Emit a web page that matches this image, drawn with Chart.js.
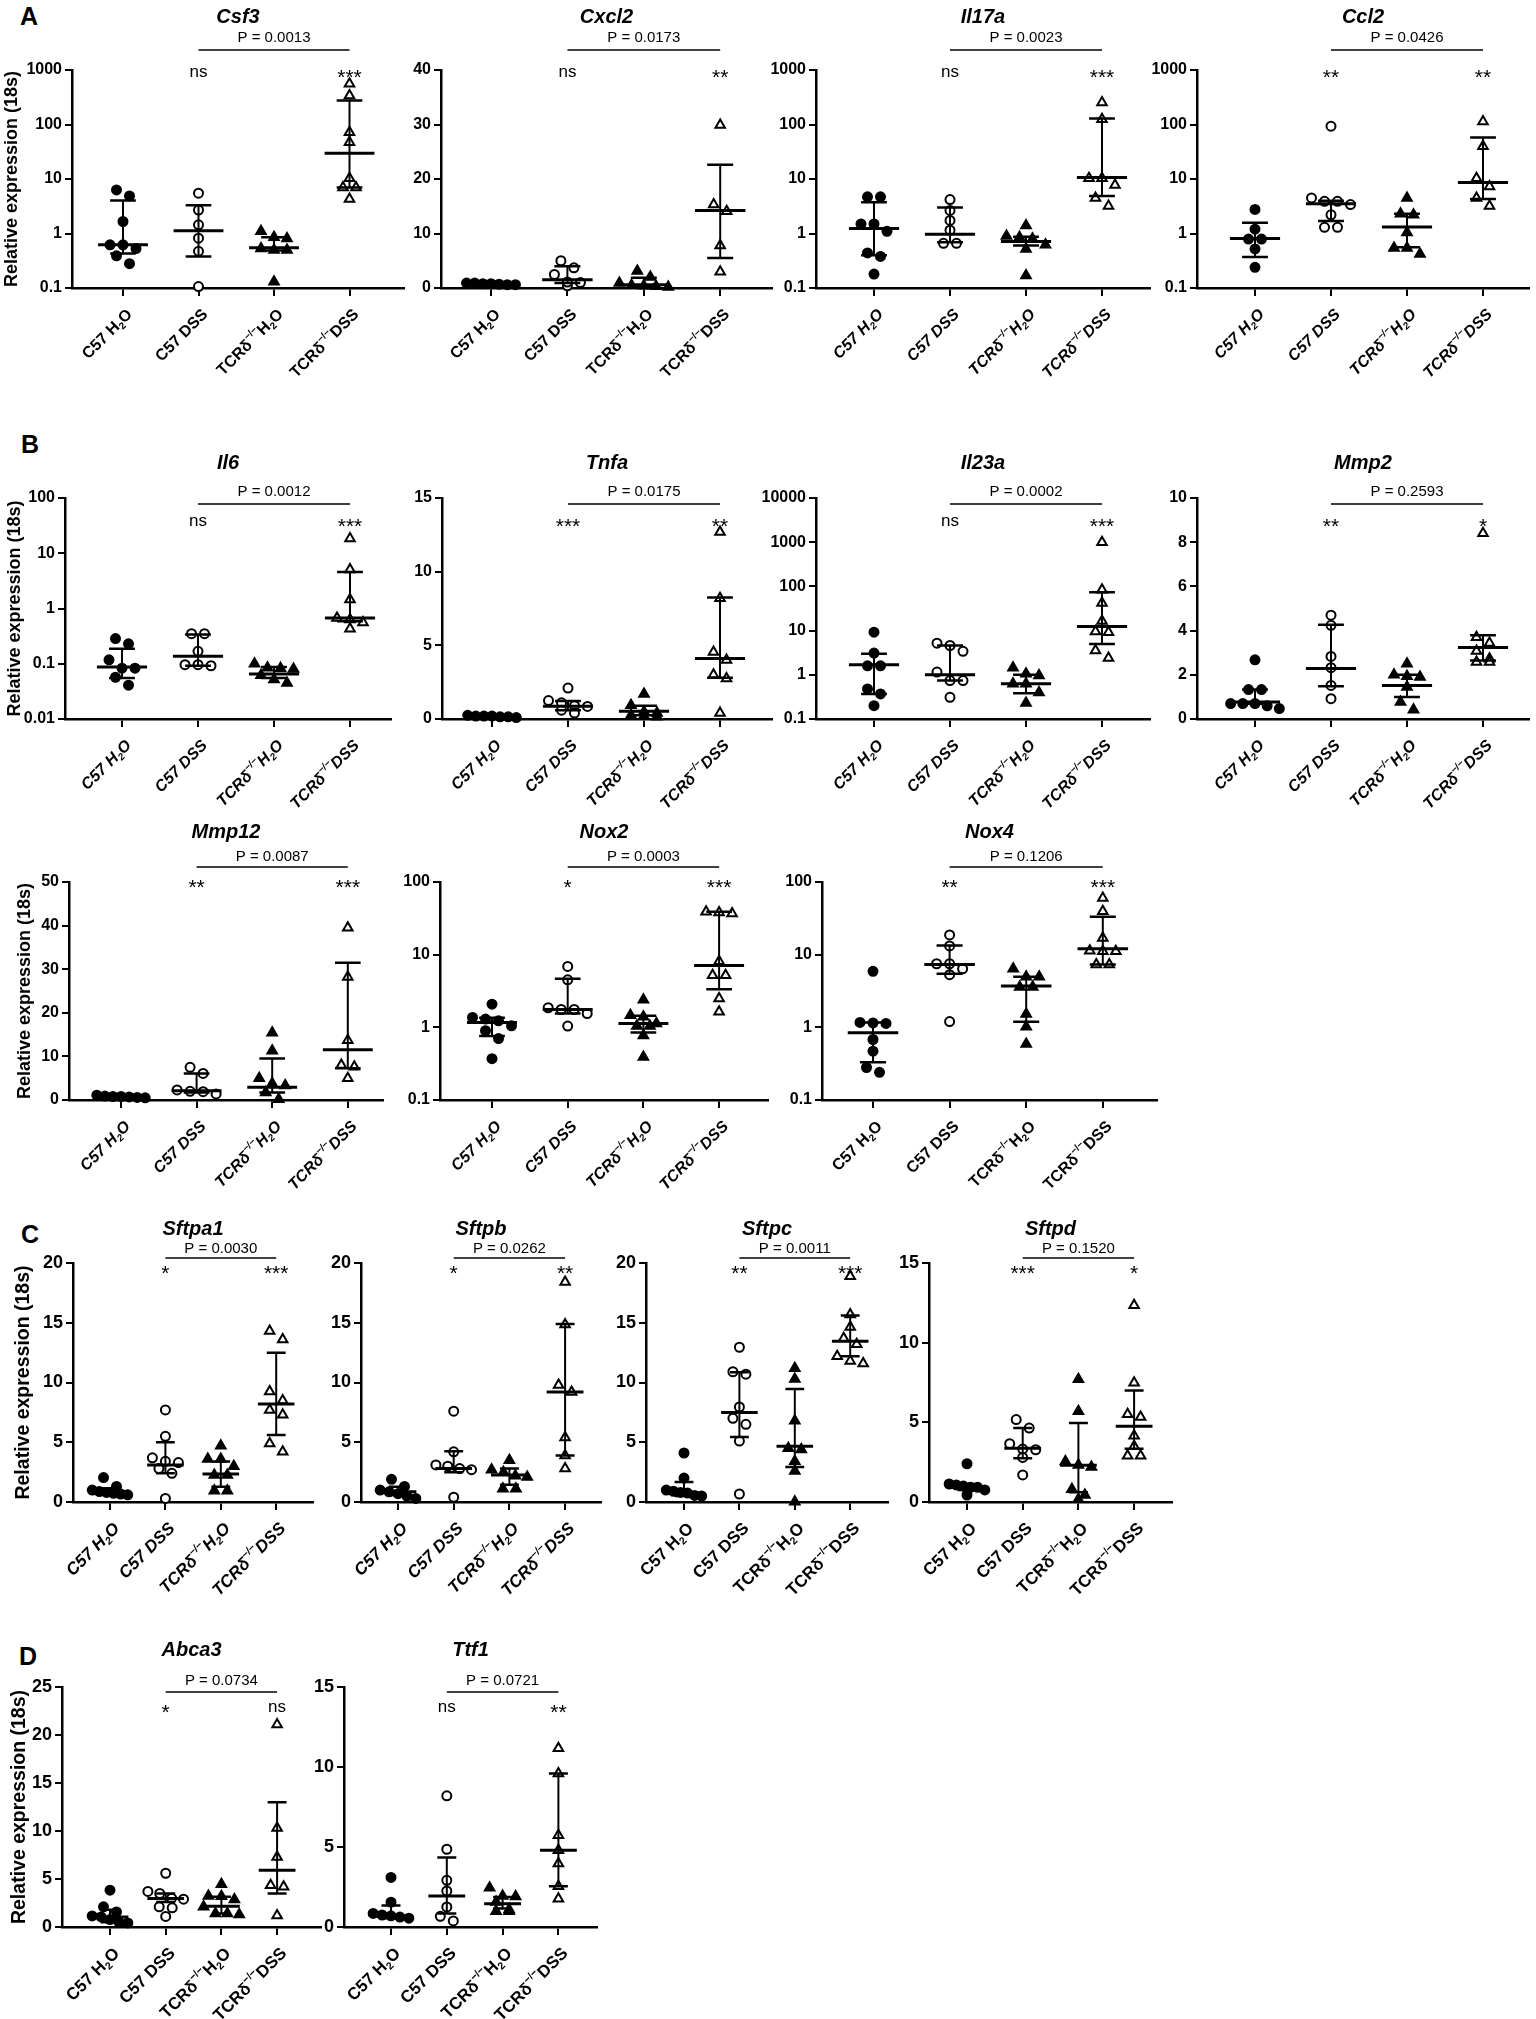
<!DOCTYPE html>
<html>
<head>
<meta charset="utf-8">
<script src="https://cdn.jsdelivr.net/npm/chart.js@4.4.1/dist/chart.umd.min.js"></script>
<style>
  body { margin: 0; background: #fff; width: 1536px; height: 2019px; position: relative; overflow: hidden; }
  canvas { position: absolute; }
  .lab { position: absolute; font: bold 25px/25px "Liberation Sans", Arial, sans-serif; color: #000; }
</style>
</head>
<body>
<div class="lab" style="left:20px;top:4px">A</div>
<div class="lab" style="left:21px;top:432px">B</div>
<div class="lab" style="left:21px;top:1222px">C</div>
<div class="lab" style="left:19px;top:1644px">D</div>
<script>
// ---- data ----
const groups = ['C57 H_{2}O', 'C57 DSS', 'TCRδ^{−/−}H_{2}O', 'TCRδ^{−/−}DSS'];
const genes = ['Csf3','Cxcl2','Il17a','Ccl2','Il6','Tnfa','Il23a','Mmp2','Mmp12','Nox2','Nox4','Sftpa1','Sftpb','Sftpc','Sftpd','Abca3','Ttf1'];
const pValues = ['0.0013','0.0173','0.0023','0.0426','0.0012','0.0175','0.0002','0.2593','0.0087','0.0003','0.1206','0.0030','0.0262','0.0011','0.1520','0.0734','0.0721'];
const marks = [['ns','***'],['ns','**'],['ns','***'],['**','**'],['ns','***'],['***','**'],['ns','***'],['**','*'],['**','***'],['*','***'],['**','***'],['*','***'],['*','**'],['**','***'],['***','*'],['*','ns'],['ns','**']];

const ticksLog1000 = [0.1, 1, 10, 100, 1000];
const ticksLog100 = [0.01, 0.1, 1, 10, 100];
const ticksLog10000 = [0.1, 1, 10, 100, 1000, 10000];
const ticksLog3 = [0.1, 1, 10, 100];
const ticks40 = [0, 10, 20, 30, 40];
const ticks15 = [0, 5, 10, 15];
const ticks10 = [0, 2, 4, 6, 8, 10];
const ticks50 = [0, 10, 20, 30, 40, 50];
const ticks20 = [0, 5, 10, 15, 20];
const ticks25 = [0, 5, 10, 15, 20, 25];

// values per group; Iqr = [low, median, high] per group
const csf3 = [[6.3,4.9,1.66,0.62,0.53,0.62,0.39,0.28],[5.5,2.7,1.44,0.82,0.47,0.106],[1.1,0.81,0.85,0.53,0.5,0.5,0.13],[560,340,72,47,10.3,7,7,4.3]];
const csf3Iqr = [[0.43,0.62,4.05],[0.38,1.12,3.3],[0.49,0.55,0.85],[7.0,29.6,277]];
const cxcl2 = [[0.6,0.9,0.7,0.8,0.6,0.8,0.9],[5.0,2.5,0.4,1.1,3.7,1.0],[3.1,2.0,0.9,0.5,0.3,0.2,0.4],[29.9,14.1,15.3,7.8,3.0]];
const cxcl2Iqr = [[0.6,0.75,0.9],[0.9,1.5,4.0],[0.3,0.6,1.9],[5.5,14.2,22.6]];
const il17a = [[4.7,4.7,1.5,1.5,1.1,0.44,0.38,0.18],[4.2,2.65,1.74,1.15,0.66,0.66],[1.4,0.85,0.8,0.9,0.62,0.52,0.17],[253,125,10.3,10.3,7.8,4.5,3.2]];
const il17aIqr = [[0.40,1.23,3.74],[0.69,0.97,3.0],[0.6,0.71,0.87],[4.9,10.6,129]];
const ccl2 = [[2.76,1.2,0.79,0.79,0.52,0.24],[93,4.5,3.9,3.9,3.4,2.2,1.3,1.3],[4.5,2.3,2.2,1.04,0.54,0.54,0.42],[113,40,10.3,7.3,4.5,3.2]];
const ccl2Iqr = [[0.37,0.81,1.58],[1.7,3.5,4.0],[0.56,1.32,2.3],[4.3,8.6,58]];
const il6 = [[0.285,0.23,0.118,0.083,0.083,0.057,0.041],[0.35,0.35,0.168,0.092,0.096,0.096],[0.1,0.085,0.083,0.08,0.062,0.052,0.045],[18.4,5.1,1.46,0.67,0.63,0.56,0.43]];
const il6Iqr = [[0.055,0.087,0.187],[0.092,0.136,0.34],[0.055,0.065,0.087],[0.59,0.67,4.6]];
const tnfa = [[0.2,0.25,0.2,0.15,0.2,0.1,0.15],[2.1,1.25,1.1,0.9,0.85,0.6,0.4],[1.7,0.93,0.5,0.4,0.25,0.15,0.2],[12.7,8.2,4.55,4.0,3.0,2.75,0.4]];
const tnfaIqr = [[0.15,0.2,0.25],[0.59,0.86,1.22],[0.25,0.52,0.9],[2.8,4.1,8.24]];
const il23a = [[9.2,3.1,1.6,1.6,0.48,0.37,0.2],[4.6,5.2,3.4,1.15,0.74,0.74,0.31],[1.44,1.05,0.97,0.63,0.63,0.4,0.23],[1000,84,42,16.4,9.6,9.2,3.55,2.4]];
const il23aIqr = [[0.37,1.68,2.98],[0.74,1.0,4.6],[0.38,0.63,1.0],[5.0,12.4,74]];
const mmp2 = [[2.68,1.33,1.33,0.7,0.7,0.7,0.6,0.47],[4.7,4.24,2.83,2.32,1.52,0.92],[2.5,1.9,1.93,2.0,1.45,0.77,0.42],[8.4,3.7,3.44,3.08,2.73,2.58,2.58]];
const mmp2Iqr = [[0.69,0.77,1.33],[1.48,2.28,4.27],[1.0,1.52,2.0],[2.65,3.23,3.79]];
const mmp12 = [[0.9,1.1,0.6,0.8,0.7,0.5,0.8],[7.5,6.1,2.3,2.0,1.9,1.4],[15.4,11.3,5.0,3.8,3.3,1.7,0.2],[39.5,28.2,13.7,8.0,7.6,5.0]];
const mmp12Iqr = [[0.6,0.75,1.0],[1.7,2.1,6.1],[1.7,2.9,9.5],[7.3,11.5,31.5]];
const nox2 = [[2.08,1.37,1.3,1.23,1.05,0.9,0.7,0.37],[6.9,4.5,1.86,1.76,1.76,1.55,1.04],[2.4,1.47,1.4,1.13,1.04,1.04,0.77,0.39],[38,37,39,8.1,5.2,5.2,2.5,1.64]];
const nox2Iqr = [[0.76,1.17,1.35],[1.55,1.76,4.67],[0.85,1.13,1.44],[3.34,7.1,39]];
const nox4 = [[5.9,1.15,1.17,1.13,0.68,0.47,0.28,0.24],[18.7,13.2,7.5,7.5,6.4,5.3,1.2],[6.4,4.96,4.96,3.6,3.6,1.52,1.02,0.59],[60,39.7,16.9,11.1,11.1,11.3,7.3,7.3]];
const nox4Iqr = [[0.33,0.84,1.17],[5.45,7.3,13.4],[1.19,3.7,4.96],[7.3,12.1,33.2]];
const sftpa1 = [[2.04,1.3,1.0,0.87,0.67,0.73,0.6,0.8],[7.7,5.5,3.7,3.4,3.3,2.8,2.4,0.3],[4.7,3.6,3.6,3.0,2.26,2.26,0.95,0.95],[14.3,13.6,9.25,8.5,7.7,7.3,4.9,4.2]];
const sftpa1Iqr = [[0.65,0.87,1.15],[2.4,3.1,5.0],[1.28,2.35,3.38],[5.6,8.2,12.5]];
const sftpb = [[1.9,1.3,1.0,0.85,0.7,0.5,0.3],[7.6,4.2,3.1,3.0,2.8,2.7,0.4],[3.5,2.7,2.5,2.2,2.1,1.1,1.1],[18.4,14.85,9.8,9.2,5.4,3.9,2.8]];
const sftpbIqr = [[0.58,0.86,1.28],[2.5,2.8,4.25],[1.45,2.25,2.8],[3.9,9.2,14.9]];
const sftpc = [[4.1,2.0,1.0,0.9,0.8,0.75,0.55,0.5],[12.95,10.9,10.7,7.95,6.5,7.0,5.1,0.67],[11.2,10.3,6.8,4.5,4.4,3.4,2.6,0.02],[18.9,15.7,14.65,13.7,13.2,12.2,11.6,11.8]];
const sftpcIqr = [[0.5,0.75,1.67],[5.44,7.5,10.85],[2.93,4.66,9.45],[12.2,13.45,15.6]];
const sftpd = [[2.4,1.13,1.07,0.92,0.92,0.76,0.44,1.0],[5.17,4.64,3.66,3.32,3.28,2.8,1.7],[7.7,5.7,2.54,2.33,2.2,0.8,0.44,0.17],[12.35,7.48,5.5,5.34,4.16,3.5,2.9,2.9]];
const sftpdIqr = [[0.76,0.92,1.13],[2.75,3.38,4.64],[0.61,2.31,4.96],[3.34,4.75,7.0]];
const abca3 = [[3.83,2.1,1.57,1.15,1.05,0.77,0.52,0.42],[5.6,3.7,3.5,3.0,2.9,2.1,2.0,1.1],[4.46,3.24,3.2,2.86,2.1,1.4,1.4,1.3],[21.1,10.3,7.3,4.36,4.2,1.2]];
const abca3Iqr = [[0.5,1.05,1.8],[2.6,2.96,3.5],[1.4,2.16,3.14],[3.5,5.9,13.0]];
const ttf1 = [[3.1,1.55,0.85,0.75,0.7,0.62,0.55],[8.2,4.86,2.92,2.25,1.25,0.67,0.38],[2.46,1.94,1.9,1.57,1.09,0.98,0.98],[11.17,9.6,5.74,4.8,3.97,2.55,1.77]];
const ttf1Iqr = [[0.55,0.67,1.34],[0.84,1.94,4.34],[1.15,1.46,1.88],[2.55,4.8,9.6]];

// ---- layout ----
const FONT = '"Liberation Sans", Arial, Helvetica, sans-serif';
Chart.defaults.font.family = FONT;
Chart.defaults.color = '#000';

// per row: axis top/bottom, font sizes, y-title padding, offsets of title / P text / P line / stars from axis top
const rows = {
  A:  { top: 70,   bottom: 288,  tick: 16, lab: 16, yt: 18,   ytPad: 1,  off: [-53, -32, -20, 2] },
  B:  { top: 498,  bottom: 719,  tick: 16, lab: 16, yt: 18,   ytPad: 4,  off: [-35, -6, 6, 23] },
  B2: { top: 882,  bottom: 1100, tick: 16, lab: 16, yt: 18,   ytPad: 14, off: [-50, -25, -15, 0] },
  C:  { top: 1263, bottom: 1502, tick: 18, lab: 17, yt: 19.5, ytPad: 12, off: [-34, -14, -5, 5] },
  D:  { top: 1687, bottom: 1927, tick: 18, lab: 17, yt: 19.5, ytPad: 8,  off: [-37, -6, 5, 20] }
};

const panels = [
  { vals: csf3,   iqr: csf3Iqr,   row: 'A',  ax: 72,   c0: 51, step: 75.5, len: 332, log: true,  ticks: ticksLog1000, first: true },
  { vals: cxcl2,  iqr: cxcl2Iqr,  row: 'A',  ax: 441,  c0: 50, step: 76.4, len: 331, log: false, ticks: ticks40 },
  { vals: il17a,  iqr: il17aIqr,  row: 'A',  ax: 816,  c0: 58, step: 76,   len: 334, log: true,  ticks: ticksLog1000, ital: true },
  { vals: ccl2,   iqr: ccl2Iqr,   row: 'A',  ax: 1197, c0: 58, step: 76,   len: 332, log: true,  ticks: ticksLog1000, ital: true },
  { vals: il6,    iqr: il6Iqr,    row: 'B',  ax: 65,   c0: 57, step: 76,   len: 326, log: true,  ticks: ticksLog100, first: true, ital: true },
  { vals: tnfa,   iqr: tnfaIqr,   row: 'B',  ax: 442,  c0: 50, step: 76,   len: 330, log: false, ticks: ticks15, ital: true },
  { vals: il23a,  iqr: il23aIqr,  row: 'B',  ax: 816,  c0: 58, step: 76,   len: 334, log: true,  ticks: ticksLog10000, ital: true },
  { vals: mmp2,   iqr: mmp2Iqr,   row: 'B',  ax: 1197, c0: 58, step: 76,   len: 332, log: false, ticks: ticks10, ital: true },
  { vals: mmp12,  iqr: mmp12Iqr,  row: 'B2', ax: 69,   c0: 52, step: 75.6, len: 314, log: false, ticks: ticks50, first: true, ital: true },
  { vals: nox2,   iqr: nox2Iqr,   row: 'B2', ax: 440,  c0: 52, step: 75.7, len: 328, log: true,  ticks: ticksLog3, ital: true },
  { vals: nox4,   iqr: nox4Iqr,   row: 'B2', ax: 822,  c0: 51, step: 76.6, len: 335, log: true,  ticks: ticksLog3 },
  { vals: sftpa1, iqr: sftpa1Iqr, row: 'C',  ax: 73,   c0: 37, step: 55.4, len: 240, log: false, ticks: ticks20, first: true, ital: true },
  { vals: sftpb,  iqr: sftpbIqr,  row: 'C',  ax: 361,  c0: 37, step: 55.7, len: 240, log: false, ticks: ticks20, ital: true },
  { vals: sftpc,  iqr: sftpcIqr,  row: 'C',  ax: 646,  c0: 38, step: 55.4, len: 242, log: false, ticks: ticks20 },
  { vals: sftpd,  iqr: sftpdIqr,  row: 'C',  ax: 929,  c0: 38, step: 55.7, len: 243, log: false, ticks: ticks15 },
  { vals: abca3,  iqr: abca3Iqr,  row: 'D',  ax: 62,   c0: 48, step: 55.7, len: 259, log: false, ticks: ticks25, first: true },
  { vals: ttf1,   iqr: ttf1Iqr,   row: 'D',  ax: 344,  c0: 47, step: 55.8, len: 253, log: false, ticks: ticks15 }
];

const styles = ['circle', 'circle', 'triangle', 'triangle'];
const fills = ['#000', '#fff', '#000', '#fff'];
const radii = [4.5, 4.5, 5.5, 5.5];

// spread points of similar value side by side (like a column scatter)
function swarm(vals, p, H) {
  const lo = p.ticks[0], hi = p.ticks[p.ticks.length - 1];
  const frac = v => p.log ? (Math.log10(v) - Math.log10(lo)) / (Math.log10(hi) - Math.log10(lo)) : (v - lo) / (hi - lo);
  const items = vals.map((v, k) => ({ k, py: frac(v) * H })).sort((a, b) => b.py - a.py);
  const offs = new Array(vals.length).fill(0);
  let bin = [];
  const flush = () => {
    const n = bin.length;
    const gap = n > 1 ? Math.min(13, 0.64 * p.step / (n - 1)) : 0;
    bin.forEach((it, j) => { offs[it.k] = (j - (n - 1) / 2) * gap; });
    bin = [];
  };
  items.forEach(it => {
    if (bin.length && bin[0].py - it.py > 9) flush();
    bin.push(it);
  });
  flush();
  return offs;
}

function parseLabel(s) {
  return s.split(/(_\{[^}]*\}|\^\{[^}]*\})/).filter(t => t).map(t => {
    if (t.startsWith('_{')) return { t: t.slice(2, -1), k: 'sub' };
    if (t.startsWith('^{')) return { t: t.slice(2, -1), k: 'sup' };
    return { t, k: '' };
  });
}

function drawLabel(ctx, text, x, y, size, italic) {
  const parts = parseLabel(text);
  const base = (italic ? 'italic ' : '') + 'bold ' + size + 'px ' + FONT;
  const small = (italic ? 'italic ' : '') + 'bold ' + (size * 0.62).toFixed(1) + 'px ' + FONT;
  let w = 0;
  parts.forEach(pt => { ctx.font = pt.k ? small : base; pt.w = ctx.measureText(pt.t).width; w += pt.w; });
  ctx.save();
  ctx.translate(x, y);
  ctx.rotate(-Math.PI / 4);
  ctx.textAlign = 'left';
  ctx.textBaseline = 'middle';
  let u = -w;
  parts.forEach(pt => {
    ctx.font = pt.k ? small : base;
    const dy = pt.k === 'sub' ? size * 0.3 : pt.k === 'sup' ? -size * 0.38 : 0;
    ctx.fillText(pt.t, u, dy);
    u += pt.w;
  });
  ctx.restore();
}

function makePanel(p, gi) {
  const r = rows[p.row];
  const H = r.bottom - r.top;
  const yW = p.first ? p.ax : 64;
  const padTop = 80, padBot = 118, padRight = 8;
  const cv = document.createElement('canvas');
  cv.width = yW + p.len + padRight;
  cv.height = padTop + H + padBot;
  cv.style.left = (p.ax - yW) + 'px';
  cv.style.top = (r.top - padTop) + 'px';
  document.body.appendChild(cv);

  const xmin = -p.c0 / p.step;
  const xmax = xmin + p.len / p.step;

  const datasets = p.vals.map((vals, i) => {
    const offs = swarm(vals, p, H);
    return {
      type: 'scatter',
      data: vals.map((v, k) => ({ x: i + offs[k] / p.step, y: v })),
      pointStyle: styles[i],
      pointRadius: radii[i],
      pointHoverRadius: radii[i],
      backgroundColor: fills[i],
      borderColor: '#000',
      borderWidth: 2,
      clip: false
    };
  });

  const deco = {
    id: 'deco',
    afterDatasetsDraw(chart) {
      const { ctx, scales: { x, y } } = chart;
      ctx.save();
      ctx.strokeStyle = '#000';
      p.iqr.forEach(([lo, med, hi], i) => {
        const cx = x.getPixelForValue(i);
        const yl = y.getPixelForValue(lo), ym = y.getPixelForValue(med), yh = y.getPixelForValue(hi);
        const cw = 0.17 * p.step, mw = 0.33 * p.step;
        ctx.lineWidth = 2;
        ctx.beginPath(); ctx.moveTo(cx, yl); ctx.lineTo(cx, yh); ctx.stroke();
        ctx.lineWidth = 2.5;
        ctx.beginPath();
        ctx.moveTo(cx - cw, yl); ctx.lineTo(cx + cw, yl);
        ctx.moveTo(cx - cw, yh); ctx.lineTo(cx + cw, yh);
        ctx.stroke();
        ctx.lineWidth = 3;
        ctx.beginPath(); ctx.moveTo(cx - mw, ym); ctx.lineTo(cx + mw, ym); ctx.stroke();
      });
      ctx.restore();
    },
    afterDraw(chart) {
      const { ctx, chartArea: a, scales: { x } } = chart;
      ctx.save();
      ctx.fillStyle = '#000';
      ctx.strokeStyle = '#000';
      ctx.textAlign = 'center';
      ctx.textBaseline = 'middle';
      ctx.font = 'italic bold 20px ' + FONT;
      ctx.fillText(genes[gi], (a.left + a.right) / 2, a.top + r.off[0]);
      const x1 = x.getPixelForValue(1), x3 = x.getPixelForValue(3);
      ctx.font = '15px ' + FONT;
      ctx.fillText('P = ' + pValues[gi], (x1 + x3) / 2, a.top + r.off[1]);
      ctx.lineWidth = 1.5;
      ctx.beginPath(); ctx.moveTo(x1, a.top + r.off[2]); ctx.lineTo(x3, a.top + r.off[2]); ctx.stroke();
      ctx.textBaseline = 'alphabetic';
      [x1, x3].forEach((xx, k) => {
        const m = marks[gi][k];
        if (m === 'ns') {
          ctx.font = '17px ' + FONT;
          ctx.fillText(m, xx, a.top + r.off[3] + 4.5);
        } else {
          ctx.font = '21px ' + FONT;
          ctx.fillText(m, xx, a.top + r.off[3] + 11.5);
        }
      });
      groups.forEach((g, i) => {
        drawLabel(ctx, g, x.getPixelForValue(i) + 7, a.bottom + 24, r.lab, !!p.ital);
      });
      ctx.restore();
    }
  };

  const axisGrid = len => ({ drawOnChartArea: false, drawTicks: true, tickLength: len, color: '#000', lineWidth: 2 });

  new Chart(cv, {
    type: 'scatter',
    data: { datasets },
    options: {
      responsive: false,
      animation: false,
      events: [],
      layout: { padding: { top: padTop, right: padRight, left: 0, bottom: 0 } },
      plugins: { legend: { display: false }, tooltip: { enabled: false } },
      scales: {
        x: {
          type: 'linear',
          min: xmin,
          max: xmax,
          afterBuildTicks: s => { s.ticks = [0, 1, 2, 3].map(v => ({ value: v })); },
          afterFit: s => { s.height = padBot; },
          ticks: { display: false },
          grid: axisGrid(8),
          border: { color: '#000', width: 2.5 }
        },
        y: {
          type: p.log ? 'logarithmic' : 'linear',
          min: p.ticks[0],
          max: p.ticks[p.ticks.length - 1],
          afterBuildTicks: s => { s.ticks = p.ticks.map(v => ({ value: v })); },
          afterFit: s => { s.width = yW; },
          ticks: {
            autoSkip: false,
            padding: 3,
            color: '#000',
            font: { size: r.tick, weight: 'bold' },
            callback: v => String(v)
          },
          grid: axisGrid(7),
          border: { color: '#000', width: 2.5 },
          title: {
            display: !!p.first,
            text: 'Relative expression (18s)',
            color: '#000',
            font: { size: r.yt, weight: 'bold' },
            padding: { top: r.ytPad, bottom: 0 }
          }
        }
      }
    },
    plugins: [deco]
  });
}

panels.forEach((p, i) => makePanel(p, i));
</script>
</body>
</html>
